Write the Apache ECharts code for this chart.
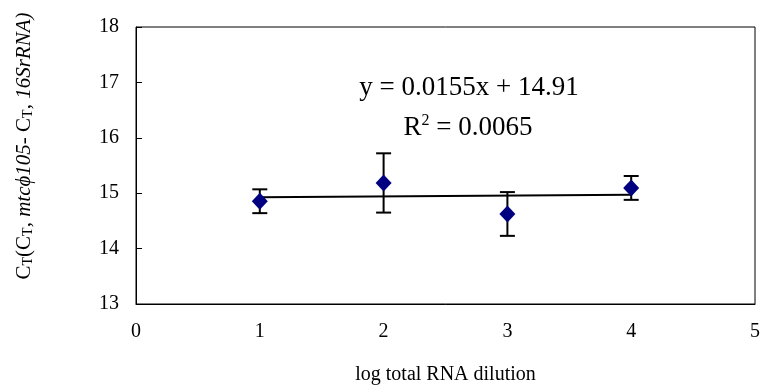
<!DOCTYPE html>
<html>
<head>
<meta charset="utf-8">
<script src="https://cdn.jsdelivr.net/npm/echarts@6/dist/echarts.min.js"></script>
<style>
  html, body { margin: 0; padding: 0; background: #fff; }
  #chart { width: 764px; height: 392px; }
</style>
</head>
<body>
<div id="chart"></div>
<script>
// dilution (log) vs delta Ct
const dilutions = [1, 2, 3, 4];
const deltaCt = [14.855, 15.185, 14.625, 15.095];
const errors = [0.215, 0.535, 0.395, 0.215];
const xTicks = [0, 1, 2, 3, 4, 5];
const yTicks = [13, 14, 15, 16, 17, 18];
const trendSlope = 0.0155;
const trendIntercept = 14.91;
const trendR2 = 0.0065;

const serif = "'Liberation Serif', 'DejaVu Serif', serif";

const chart = echarts.init(document.getElementById('chart'));

const trendData = [dilutions[0], dilutions[dilutions.length - 1]].map(x => [x, trendIntercept + trendSlope * x]);
const errData = dilutions.map((x, i) => [x, deltaCt[i] - errors[i], deltaCt[i] + errors[i]]);

const option = {
  animation: false,
  backgroundColor: '#fff',
  grid: {
    left: 136, right: 9, top: 27, bottom: 88,
    show: true, borderColor: '#000', borderWidth: 1
  },
  xAxis: {
    type: 'value',
    min: xTicks[0], max: xTicks[xTicks.length - 1], interval: 1,
    axisLine: { lineStyle: { color: '#000', width: 1 } },
    axisTick: { show: false },
    splitLine: { show: false },
    axisLabel: { color: '#000', fontFamily: serif, fontSize: 20, margin: 18 },
    name: 'log total RNA dilution',
    nameLocation: 'middle',
    nameGap: 61,
    nameTextStyle: { color: '#000', fontFamily: serif, fontSize: 20 }
  },
  yAxis: {
    type: 'value',
    min: yTicks[0], max: yTicks[yTicks.length - 1], interval: 1,
    axisLine: { show: true, lineStyle: { color: '#000', width: 1 } },
    axisTick: { show: true, inside: true, length: 6, lineStyle: { color: '#000', width: 1 } },
    splitLine: { show: false },
    axisLabel: { color: '#000', fontFamily: serif, fontSize: 20, margin: 17 }
  },
  graphic: [
    {
      type: 'text',
      x: 24, y: 146,
      rotation: Math.PI / 2,
      style: {
        text: '{n|C}{s|T}{n|(C}{s|T}{n|, }{i|mtcϕ105}{n|- C}{s|T}{n|, }{i|16SrRNA}{i|)}',
        align: 'center',
        verticalAlign: 'middle',
        rich: {
          n: { fontFamily: serif, fontSize: 21, fill: '#000', lineHeight: 25 },
          i: { fontFamily: serif, fontSize: 21, fontStyle: 'italic', fill: '#000', lineHeight: 25 },
          s: { fontFamily: serif, fontSize: 14, fill: '#000', lineHeight: 25, verticalAlign: 'top', padding: [10, 0, 0, 0] }
        }
      }
    },
    {
      type: 'text',
      x: 469, y: 88,
      style: {
        text: 'y = ' + trendSlope.toFixed(4) + 'x + ' + trendIntercept.toFixed(2),
        align: 'center', verticalAlign: 'middle',
        fontFamily: serif, fontSize: 27, fill: '#000'
      }
    },
    {
      type: 'text',
      x: 468, y: 128,
      style: {
        text: '{n|R}{p|2}{n| = ' + trendR2.toFixed(4) + '}',
        align: 'center', verticalAlign: 'middle',
        rich: {
          n: { fontFamily: serif, fontSize: 27, fill: '#000', lineHeight: 31 },
          p: { fontFamily: serif, fontSize: 16, fill: '#000', lineHeight: 31, verticalAlign: 'top', padding: [0, 0, 0, 0] }
        }
      }
    }
  ],
  series: [
    {
      type: 'line',
      data: trendData,
      symbol: 'none',
      lineStyle: { color: '#000', width: 2 },
      z: 2
    },
    {
      type: 'custom',
      data: errData,
      encode: { x: 0, y: [1, 2] },
      renderItem: function (params, api) {
        const x = api.value(0);
        const lo = api.coord([x, api.value(1)]);
        const hi = api.coord([x, api.value(2)]);
        const cap = 7.5;
        const style = { stroke: '#000', lineWidth: 2 };
        return {
          type: 'group',
          children: [
            { type: 'line', shape: { x1: lo[0], y1: lo[1], x2: hi[0], y2: hi[1] }, style: style },
            { type: 'line', shape: { x1: lo[0] - cap, y1: lo[1], x2: lo[0] + cap, y2: lo[1] }, style: style },
            { type: 'line', shape: { x1: hi[0] - cap, y1: hi[1], x2: hi[0] + cap, y2: hi[1] }, style: style }
          ]
        };
      },
      z: 3
    },
    {
      type: 'scatter',
      data: dilutions.map((x, i) => [x, deltaCt[i]]),
      symbol: 'diamond',
      symbolSize: [16, 17],
      itemStyle: { color: '#000080', opacity: 1 },
      z: 4
    }
  ]
};

chart.setOption(option);
</script>
</body>
</html>
